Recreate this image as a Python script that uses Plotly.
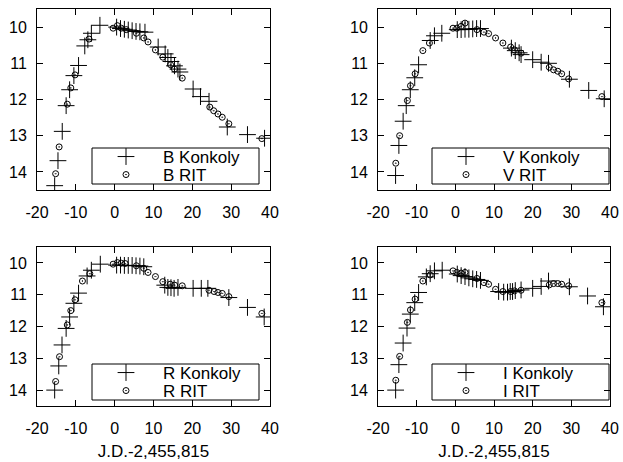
import plotly.graph_objects as go

W, H = 623, 462

# ---------------- data ----------------
b_kon_t = [-15.45, -14.6, -13.5, -12.5, -11.6, -10.5, -9.3, -7.7, -6.9, -6.0, -3.8,
           0.5, 1.5, 2.5, 3.5, 4.5, 5.5, 6.5, 7.8, 11.2, 13.0, 13.7, 14.5, 15.4, 16.3, 16.8,
           20.2, 22.1, 24.3, 29.0, 34.2, 38.6]
b_kon_m = [14.38, 13.69, 12.88, 12.17, 11.73, 11.34, 11.06, 10.52, 10.35, 10.17, 9.95,
           10.0, 10.04, 10.06, 10.08, 10.1, 10.12, 10.13, 10.14, 10.55, 10.74, 10.84, 10.95, 11.07, 11.16, 11.24,
           11.71, 11.92, 12.05, 12.76, 12.97, 13.07]
b_rit_t = [-15.2, -14.3, -12.2, -11.3, -10.2, -6.6, -0.4, 0.7, 1.7, 3.0, 5.6, 7.5, 8.6,
           10.5, 12.4, 14.4, 15.4, 17.4, 24.5, 25.5, 26.6, 27.7, 29.4, 37.9]
b_rit_m = [14.05, 13.31, 12.13, 11.68, 11.32, 10.33, 10.03, 9.96, 10.03, 10.07, 10.17, 10.3, 10.41,
           10.63, 10.83, 11.04, 11.16, 11.41, 12.21, 12.31, 12.4, 12.49, 12.67, 13.08]

v_kon_t = [-15.45, -14.6, -13.5, -12.7, -11.65, -10.5, -9.5, -6.5, -5.4, -3.5,
           0.5, 1.5, 2.5, 3.5, 4.5, 5.5, 6.5, 14.5, 15.5, 16.5, 17.0,
           20.0, 22.2, 24.1, 29.5, 34.5, 38.5]
v_kon_m = [14.1, 13.27, 12.6, 12.17, 11.73, 11.4, 11.04, 10.37, 10.24, 10.17,
           10.07, 10.07, 10.06, 10.06, 10.05, 10.04, 10.04, 10.58, 10.65, 10.71, 10.76,
           10.9, 10.97, 11.0, 11.44, 11.75, 11.98]
v_rit_t = [-15.4, -14.4, -12.4, -11.6, -10.4, -8.4, -6.7, -0.6, 0.4, 1.5, 2.5, 5.6, 7.4, 8.6,
           10.4, 12.3, 14.3, 15.3, 17.0, 24.3, 25.4, 26.5, 27.5, 29.3, 37.9]
v_rit_m = [13.76, 13.0, 12.03, 11.62, 11.29, 10.65, 10.44, 10.03, 10.03, 9.98, 9.89, 10.07, 10.14, 10.18,
           10.3, 10.44, 10.55, 10.63, 10.72, 11.11, 11.18, 11.22, 11.29, 11.43, 11.92]

r_kon_t = [-15.45, -14.4, -13.56, -12.5, -11.6, -10.5, -9.3, -7.1, -6.0, -3.7,
           0.5, 1.5, 2.5, 3.5, 4.5, 5.5, 6.5, 7.5, 12.9, 13.7, 14.5, 15.3, 16.3,
           20.2, 22.3, 24.0, 29.4, 34.2, 38.5]
r_kon_m = [14.0, 13.24, 12.58, 12.06, 11.7, 11.27, 10.95, 10.41, 10.23, 10.04,
           10.07, 10.07, 10.08, 10.08, 10.08, 10.09, 10.1, 10.12, 10.7, 10.77, 10.78, 10.8, 10.77,
           10.8, 10.8, 10.8, 11.09, 11.4, 11.7]
r_rit_t = [-15.2, -14.2, -12.2, -11.3, -10.2, -8.3, -6.4, -0.4, 0.7, 1.7, 2.7, 5.6, 7.5, 8.6,
           10.5, 12.4, 14.3, 15.45, 17.4, 24.3, 25.6, 26.6, 27.7, 29.4, 37.9]
r_rit_m = [13.73, 12.95, 11.95, 11.5, 11.16, 10.57, 10.34, 10.04, 9.99, 10.01, 10.02, 10.09, 10.17, 10.3,
           10.43, 10.59, 10.67, 10.7, 10.72, 10.86, 10.9, 10.93, 10.96, 11.06, 11.59]

i_kon_t = [-15.44, -14.6, -13.5, -12.5, -11.65, -10.5, -9.5, -7.5, -6.5, -5.4, -3.4,
           0.5, 1.5, 2.5, 3.5, 4.5, 5.5, 6.5, 11.2, 12.5, 13.5, 14.2, 14.8, 15.5, 17.0,
           20.0, 22.2, 24.1, 29.5, 34.2, 38.3]
i_kon_m = [14.0, 13.2, 12.52, 12.05, 11.61, 11.25, 10.93, 10.44, 10.34, 10.25, 10.23,
           10.35, 10.4, 10.43, 10.47, 10.5, 10.52, 10.55, 10.9, 10.92, 10.92, 10.9, 10.9, 10.87, 10.85,
           10.8, 10.74, 10.57, 10.75, 11.04, 11.38]
i_rit_t = [-15.4, -14.4, -12.4, -11.6, -10.4, -8.4, -6.5, -0.6, 0.4, 1.5, 2.5, 5.6, 7.4, 8.6,
           10.4, 12.3, 14.3, 15.3, 17.0, 24.3, 25.4, 26.5, 27.5, 29.3, 37.9]
i_rit_m = [13.69, 12.94, 11.87, 11.48, 11.14, 10.57, 10.38, 10.25, 10.3, 10.32, 10.3, 10.49, 10.62, 10.67,
           10.83, 10.9, 10.9, 10.88, 10.86, 10.69, 10.65, 10.65, 10.67, 10.72, 11.25]

bands = ["B", "V", "R", "I"]
kon_t = [b_kon_t, v_kon_t, r_kon_t, i_kon_t]
kon_m = [b_kon_m, v_kon_m, r_kon_m, i_kon_m]
rit_t = [b_rit_t, v_rit_t, r_rit_t, i_rit_t]
rit_m = [b_rit_m, v_rit_m, r_rit_m, i_rit_m]

x_ticks = [-20, -10, 0, 10, 20, 30, 40]
y_ticks = [10, 11, 12, 13, 14]
x_title = "J.D.-2,455,815"

# ---------------- layout (pixels) ----------------
FONT = "Liberation Sans, Arial, sans-serif"
ML, MR, MT, MB = 37, 13, 9, 56
PW, PH = W - ML - MR, H - MT - MB

panels = [  # (left, right, top, bottom) in px
    (37, 270, 9, 190),
    (378, 610, 9, 190),
    (37, 270, 247, 406),
    (378, 610, 247, 406),
]
legend_boxes = [
    (92, 259, 148, 184),
    (432, 609, 148, 184),
    (92, 259, 364, 400),
    (432, 609, 364, 400),
]
ITEMW = 64


def px(x):
    return (x - ML) / PW


def py(y):
    return 1 - (y - MT) / PH


fig = go.Figure()
layout = dict(
    width=W, height=H,
    margin=dict(l=ML, r=MR, t=MT, b=MB, autoexpand=False),
    paper_bgcolor="white", plot_bgcolor="white",
    font=dict(family=FONT, size=16, color="black"),
    showlegend=True,
    shapes=[],
)

for k, band in enumerate(bands):
    n = "" if k == 0 else str(k + 1)
    xa, ya = "x" + n, "y" + n
    leg1 = "legend" if k == 0 else "legend" + str(2 * k + 1)
    leg2 = "legend" + str(2 * k + 2)
    fig.add_trace(go.Scatter(
        x=kon_t[k], y=kon_m[k], mode="markers", name=f"{band} Konkoly",
        xaxis=xa, yaxis=ya, legend=leg1, showlegend=True,
        marker=dict(symbol="cross-thin-open", size=12, line=dict(width=1, color="black"), color="black"),
    ))
    fig.add_trace(go.Scatter(
        x=rit_t[k], y=rit_m[k], mode="markers", name=f"{band} RIT",
        xaxis=xa, yaxis=ya, legend=leg2, showlegend=True,
        marker=dict(symbol="circle-open-dot", size=6, line=dict(width=1, color="black"), color="black"),
    ))
    l, r, t, b = panels[k]
    axcommon = dict(showline=True, linecolor="black", linewidth=1, mirror="allticks",
                    ticks="inside", ticklen=6, tickwidth=1, tickcolor="black",
                    showgrid=False, zeroline=False, tickfont=dict(size=16, family=FONT),
                    automargin=False)
    layout["xaxis" + n] = dict(domain=[px(l), px(r)], anchor=ya, range=[-20, 40],
                               tickvals=x_ticks, ticktext=[str(v) for v in x_ticks],
                               ticklabelstandoff=8, **axcommon)
    layout["yaxis" + n] = dict(domain=[py(b), py(t)], anchor=xa, range=[14.5, 9.5],
                               tickvals=y_ticks, ticktext=[str(v) for v in y_ticks],
                               ticklabelstandoff=6, **axcommon)
    if k >= 2:
        layout["xaxis" + n]["title"] = dict(text=x_title, font=dict(size=17, family=FONT), standoff=8)
    bl, br, bt, bb = legend_boxes[k]
    layout["shapes"].append(dict(type="rect", xref="paper", yref="paper",
                                 x0=px(bl), x1=px(br), y0=py(bb), y1=py(bt),
                                 line=dict(color="black", width=1), fillcolor="rgba(0,0,0,0)"))
    rows = [bt + 9, bt + 27]
    for leg, yc in zip([leg1, leg2], rows):
        layout[leg] = dict(x=px(bl - 3), y=py(yc), xanchor="left", yanchor="middle",
                           bgcolor="rgba(0,0,0,0)", borderwidth=0, visible=True,
                           font=dict(size=17, family=FONT), tracegroupgap=0,
                           itemwidth=ITEMW)

fig.update_layout(**layout)
fig.write_html("out.html", config={"displayModeBar": False},
               post_script="document.body.style.margin='0px';")
